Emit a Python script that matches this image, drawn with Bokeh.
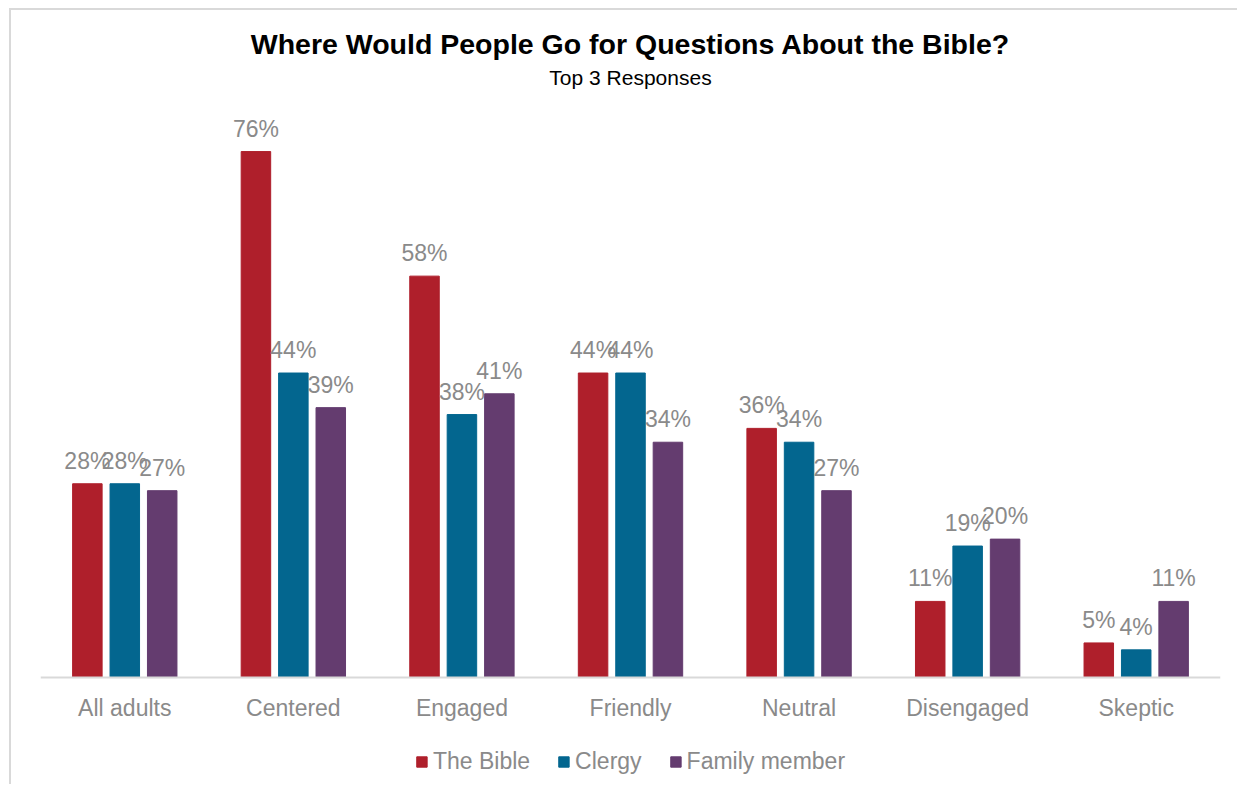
from bokeh.plotting import figure
from bokeh.models import ColumnDataSource, Legend, LegendItem, Title, LabelSet, Span
from bokeh.transform import dodge
from bokeh.core.properties import value
from bokeh.embed import file_html
from bokeh.resources import INLINE

categories = ["All adults", "Centered", "Engaged", "Friendly", "Neutral", "Disengaged", "Skeptic"]
bible = [28, 76, 58, 44, 36, 11, 5]
clergy = [28, 44, 38, 44, 34, 19, 4]
family = [27, 39, 41, 34, 27, 20, 11]
series_names = ["The Bible", "Clergy", "Family member"]
colors = ["#AF1F2B", "#03668F", "#643C6F"]

FONT = "Liberation Sans"
GRAY = "#8a8a8a"

src = ColumnDataSource(dict(
    cat=categories, bible=bible, clergy=clergy, family=family,
    bible_lbl=[f"{v}%" for v in bible],
    clergy_lbl=[f"{v}%" for v in clergy],
    family_lbl=[f"{v}%" for v in family],
))

p = figure(x_range=categories, y_range=(-15.6, 84.1), width=1228, height=776,
           output_backend="svg", toolbar_location=None, title=None,
           min_border_left=29, min_border_right=19, min_border_top=85,
           min_border_bottom=1)

p.add_layout(Title(text="Top 3 Responses", align="center", text_font_size="21px",
                   text_font_style="normal", text_font=FONT, text_color="#000000",
                   standoff=13), "above")
p.add_layout(Title(text="Where Would People Go for Questions About the Bible?", align="center",
                   text_font_size="28.5px", text_font_style="bold", text_font=FONT,
                   text_color="#000000", standoff=-5), "above")

offsets = [-0.222, 0.0, 0.222]
cols = ["bible", "clergy", "family"]
renderers = []
for col, off, c in zip(cols, offsets, colors):
    r = p.vbar(x=dodge("cat", off, range=p.x_range), top=col, width=0.175, bottom=0,
               source=src, fill_color=c, line_color=c)
    renderers.append(r)
    lbl = LabelSet(x=dodge("cat", off, range=p.x_range), y=col, text=col + "_lbl",
                   source=src, text_align="center", text_baseline="bottom", y_offset=10,
                   text_font_size="23px", text_color=GRAY, text_font=value(FONT))
    p.add_layout(lbl)

# category axis (line + labels) drawn at the zero baseline
p.add_layout(Span(location=0, dimension="width", line_color="#d9d9d9", line_width=2))
cat_lbl = LabelSet(x="cat", y=0, text="cat", source=src, text_align="center",
                   text_baseline="middle", y_offset=-30, text_font_size="23px",
                   text_color=GRAY, text_font=value(FONT))
p.add_layout(cat_lbl)

legend = Legend(items=[LegendItem(label=n, renderers=[r]) for n, r in zip(series_names, renderers)],
                orientation="horizontal", location="bottom_center", label_text_font_size="23px",
                label_text_color=GRAY, label_text_font=FONT, glyph_width=13, glyph_height=13,
                spacing=27, label_standoff=5, border_line_color=None, padding=4, margin=10,
                background_fill_alpha=0)
p.add_layout(legend, "center")

p.xgrid.visible = False
p.ygrid.visible = False
p.yaxis.visible = False
p.xaxis.visible = False
p.outline_line_color = None
p.x_range.range_padding = 0
p.styles = {"border-left": "2px solid #d9d9d9", "border-top": "2px solid #d9d9d9",
            "margin-left": "9px", "margin-top": "8px"}

open("out.html", "w").write(file_html(p, INLINE))
